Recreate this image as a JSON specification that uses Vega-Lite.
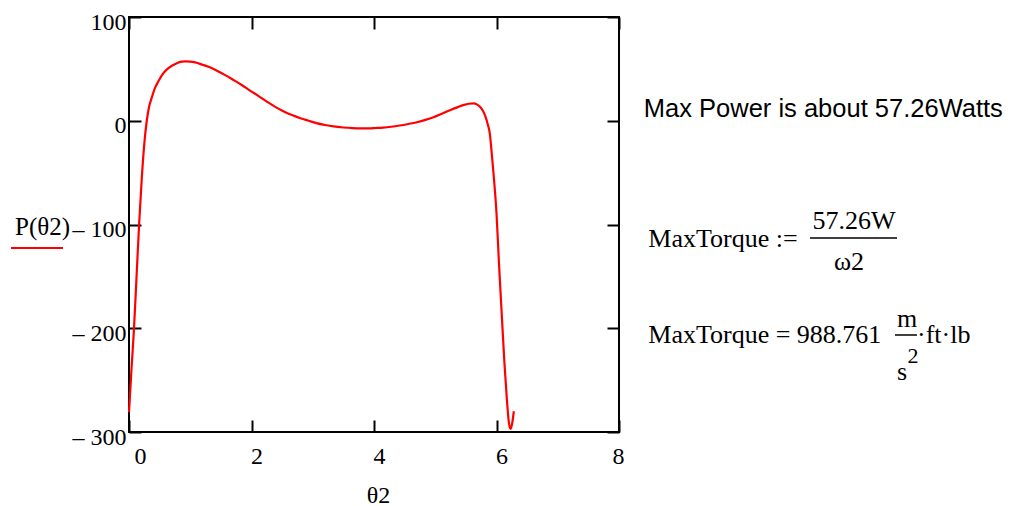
{
  "$schema": "https://vega.github.io/schema/vega-lite/v6.json",
  "width": 490,
  "height": 415,
  "autosize": {"type": "none"},
  "padding": {"left": 129, "top": 17, "right": 397, "bottom": 74},
  "background": "white",
  "config": {
    "view": {"stroke": "black", "strokeWidth": 2},
    "font": "Liberation Serif",
    "axis": {"grid": false, "domain": false, "tickColor": "black", "tickWidth": 2, "tickSize": -12, "labelColor": "black", "labelFont": "Liberation Serif", "labelFontSize": 24, "titleColor": "black", "titleFont": "Liberation Serif", "titleFontSize": 24, "titleFontWeight": "normal"}
  },
  "datasets": {
    "curve": [
      {"theta2": 0, "P": -281},
      {"theta2": 0.04, "P": -240},
      {"theta2": 0.08, "P": -202},
      {"theta2": 0.125, "P": -148},
      {"theta2": 0.165, "P": -100},
      {"theta2": 0.21, "P": -54},
      {"theta2": 0.25, "P": -22},
      {"theta2": 0.29, "P": 0},
      {"theta2": 0.33, "P": 14},
      {"theta2": 0.37, "P": 22},
      {"theta2": 0.42, "P": 31},
      {"theta2": 0.48, "P": 38},
      {"theta2": 0.55, "P": 45},
      {"theta2": 0.62, "P": 49.5},
      {"theta2": 0.7, "P": 53},
      {"theta2": 0.78, "P": 55.5},
      {"theta2": 0.86, "P": 57},
      {"theta2": 0.93, "P": 57.3},
      {"theta2": 1.0, "P": 57},
      {"theta2": 1.08, "P": 56.2},
      {"theta2": 1.2, "P": 54},
      {"theta2": 1.3, "P": 52},
      {"theta2": 1.45, "P": 47.8},
      {"theta2": 1.57, "P": 44},
      {"theta2": 1.7, "P": 39.5},
      {"theta2": 1.84, "P": 34.5},
      {"theta2": 1.97, "P": 29.3},
      {"theta2": 2.11, "P": 24},
      {"theta2": 2.25, "P": 18.5},
      {"theta2": 2.38, "P": 13.6},
      {"theta2": 2.52, "P": 9.2},
      {"theta2": 2.66, "P": 5.5},
      {"theta2": 2.8, "P": 2.4},
      {"theta2": 2.93, "P": 0},
      {"theta2": 3.06, "P": -2.3},
      {"theta2": 3.2, "P": -4.1},
      {"theta2": 3.34, "P": -5.5},
      {"theta2": 3.5, "P": -6.5},
      {"theta2": 3.65, "P": -7.1},
      {"theta2": 3.77, "P": -7.3},
      {"theta2": 3.9, "P": -7.3},
      {"theta2": 4.03, "P": -7.0},
      {"theta2": 4.15, "P": -6.6},
      {"theta2": 4.28, "P": -5.8},
      {"theta2": 4.42, "P": -4.6},
      {"theta2": 4.56, "P": -3.1},
      {"theta2": 4.7, "P": -1.4},
      {"theta2": 4.84, "P": 0.8},
      {"theta2": 4.97, "P": 3.3},
      {"theta2": 5.1, "P": 6.5},
      {"theta2": 5.24, "P": 10.2},
      {"theta2": 5.38, "P": 13.4},
      {"theta2": 5.47, "P": 15.3},
      {"theta2": 5.55, "P": 16.4},
      {"theta2": 5.62, "P": 16.8},
      {"theta2": 5.68, "P": 15.8},
      {"theta2": 5.73, "P": 13.5},
      {"theta2": 5.78, "P": 9.5},
      {"theta2": 5.82, "P": 4},
      {"theta2": 5.86, "P": -4},
      {"theta2": 5.89, "P": -12},
      {"theta2": 5.92, "P": -30},
      {"theta2": 5.95, "P": -50},
      {"theta2": 6.0, "P": -89},
      {"theta2": 6.04, "P": -137},
      {"theta2": 6.085, "P": -186},
      {"theta2": 6.13, "P": -234},
      {"theta2": 6.17, "P": -269},
      {"theta2": 6.2, "P": -290},
      {"theta2": 6.23, "P": -297},
      {"theta2": 6.255, "P": -292},
      {"theta2": 6.283, "P": -280}
    ],
    "notesSans": [
      {"note": "Max Power is about 57.26Watts", "theta2": 8.405, "P": 3.9}
    ],
    "notesLeft": [
      {"note": "MaxTorque :=", "theta2": 8.478, "P": -121.7},
      {"note": "MaxTorque = 988.761", "theta2": 8.478, "P": -214.2},
      {"note": "·ft·lb", "theta2": 12.865, "P": -214.2}
    ],
    "notesCenter": [
      {"note": "57.26W", "theta2": 11.837, "P": -104.3},
      {"note": "ω2", "theta2": 11.755, "P": -143.9},
      {"note": "m", "theta2": 12.702, "P": -198.8},
      {"note": "s", "theta2": 12.62, "P": -249.9}
    ],
    "notesSup": [
      {"note": "2", "theta2": 12.8, "P": -233.5}
    ],
    "fractionBars": [
      {"theta2": 11.118, "theta2End": 12.539, "P": -113},
      {"theta2": 12.506, "theta2End": 12.865, "P": -206.5}
    ]
  },
  "resolve": {"axis": {"x": "independent", "y": "independent"}},
  "layer": [
    {
      "data": {"name": "curve"},
      "mark": {"type": "line", "interpolate": "monotone", "strokeWidth": 2.2},
      "encoding": {
        "x": {"field": "theta2", "type": "quantitative", "scale": {"domain": [0, 8], "nice": false, "zero": false},
          "axis": {"orient": "bottom", "values": [0, 2, 4, 6, 8], "labelPadding": 24, "labelOffset": 5, "labelBaseline": "top", "title": "θ2", "titleX": 249, "titleY": 70, "titleBaseline": "alphabetic", "titleAnchor": null}},
        "y": {"field": "P", "type": "quantitative", "scale": {"domain": [-300, 100], "nice": false, "zero": false},
          "axis": {"orient": "left", "values": [-300, -200, -100, 0, 100], "labelPadding": 15, "labelOffset": 5, "labelExpr": "datum.value < 0 ? '– ' + abs(datum.value) : datum.label", "title": null}},
        "color": {"datum": "P(θ2)", "type": "nominal", "scale": {"range": ["#ff0000"]},
          "legend": {"orient": "none", "legendX": -114, "legendY": 198, "padding": 0, "title": "P(θ2)", "titleFont": "Liberation Serif", "titleFontSize": 25, "titleFontWeight": "normal", "titleColor": "black", "titlePadding": -19, "symbolType": "stroke", "symbolSize": 2704, "symbolStrokeWidth": 2, "symbolOffset": -5, "labelExpr": "''", "labelFontSize": 1}}
      }
    },
    {
      "data": {"name": "curve"},
      "mark": {"type": "point", "opacity": 0},
      "encoding": {
        "x": {"field": "theta2", "type": "quantitative", "scale": {"domain": [0, 8], "nice": false, "zero": false},
          "axis": {"orient": "top", "values": [0, 2, 4, 6, 8], "labels": false, "title": null}},
        "y": {"field": "P", "type": "quantitative", "scale": {"domain": [-300, 100], "nice": false, "zero": false},
          "axis": {"orient": "right", "values": [-300, -200, -100, 0, 100], "labels": false, "title": null}}
      }
    },
    {
      "data": {"name": "notesSans"},
      "mark": {"type": "text", "align": "left", "baseline": "alphabetic", "font": "Liberation Sans", "fontSize": 25.5, "color": "black"},
      "encoding": {
        "x": {"field": "theta2", "type": "quantitative", "scale": {"domain": [0, 8], "nice": false, "zero": false}, "axis": null},
        "y": {"field": "P", "type": "quantitative", "scale": {"domain": [-300, 100], "nice": false, "zero": false}, "axis": null},
        "text": {"field": "note"}
      }
    },
    {
      "data": {"name": "notesLeft"},
      "mark": {"type": "text", "align": "left", "baseline": "alphabetic", "font": "Liberation Serif", "fontSize": 26, "color": "black"},
      "encoding": {
        "x": {"field": "theta2", "type": "quantitative", "scale": {"domain": [0, 8], "nice": false, "zero": false}, "axis": null},
        "y": {"field": "P", "type": "quantitative", "scale": {"domain": [-300, 100], "nice": false, "zero": false}, "axis": null},
        "text": {"field": "note"}
      }
    },
    {
      "data": {"name": "notesCenter"},
      "mark": {"type": "text", "align": "center", "baseline": "alphabetic", "font": "Liberation Serif", "fontSize": 26, "color": "black"},
      "encoding": {
        "x": {"field": "theta2", "type": "quantitative", "scale": {"domain": [0, 8], "nice": false, "zero": false}, "axis": null},
        "y": {"field": "P", "type": "quantitative", "scale": {"domain": [-300, 100], "nice": false, "zero": false}, "axis": null},
        "text": {"field": "note"}
      }
    },
    {
      "data": {"name": "notesSup"},
      "mark": {"type": "text", "align": "center", "baseline": "alphabetic", "font": "Liberation Serif", "fontSize": 22, "color": "black"},
      "encoding": {
        "x": {"field": "theta2", "type": "quantitative", "scale": {"domain": [0, 8], "nice": false, "zero": false}, "axis": null},
        "y": {"field": "P", "type": "quantitative", "scale": {"domain": [-300, 100], "nice": false, "zero": false}, "axis": null},
        "text": {"field": "note"}
      }
    },
    {
      "data": {"name": "fractionBars"},
      "mark": {"type": "rule", "color": "black", "strokeWidth": 1.5},
      "encoding": {
        "x": {"field": "theta2", "type": "quantitative", "scale": {"domain": [0, 8], "nice": false, "zero": false}, "axis": null},
        "x2": {"field": "theta2End"},
        "y": {"field": "P", "type": "quantitative", "scale": {"domain": [-300, 100], "nice": false, "zero": false}, "axis": null}
      }
    }
  ]
}
